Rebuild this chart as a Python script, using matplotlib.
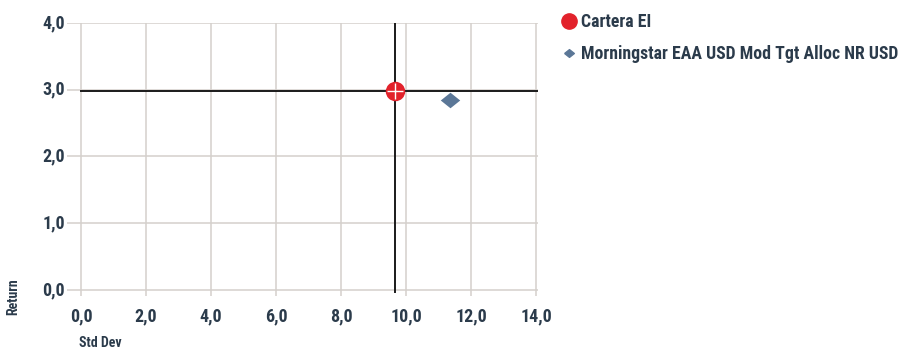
import matplotlib.pyplot as plt
from matplotlib import font_manager
from matplotlib.lines import Line2D

# risk / return values
names = ["Cartera EI", "Morningstar EAA USD Mod Tgt Alloc NR USD"]
std_dev = [9.66, 11.35]
returns = [2.98, 2.84]
x_ticks = [0, 2, 4, 6, 8, 10, 12, 14]
y_ticks = [0, 1, 2, 3, 4]

text_col = "#2b3b4b"
red = "#e2222b"
blue = "#5b7797"
installed = {f.name for f in font_manager.fontManager.ttflist}
narrow = [f for f in ["Roboto Condensed", "Archivo Narrow", "PT Sans Narrow",
                      "Asap Condensed", "Liberation Sans Narrow"] if f in installed]
plt.rcParams["font.family"] = narrow[:1] + ["DejaVu Sans"]

# a slightly flattened diamond
flat_diamond = [(-1, 0), (0, 0.8), (1, 0), (0, -0.8), (-1, 0)]

fig = plt.figure(figsize=(9.03, 3.52), dpi=100)
ax = fig.add_axes([67 / 903, 1 - 296 / 352, (538 - 67) / 903, (296 - 23) / 352])
ax.set_xlim(-0.43, 14.06)
ax.set_ylim(-0.09, 4.0)

for t in x_ticks:
    ax.plot([t, t], [-0.09, 4.0], color="#d4d0cc", lw=1.1, zorder=1)
for t in y_ticks:
    ax.plot([-0.43, 14.06], [t, t], color="#d4d0cc", lw=1.1, zorder=1)

# crosshair through the portfolio point
ax.plot([0, 14.06], [returns[0], returns[0]], color="#1a1a1a", lw=1.4, zorder=2)
ax.plot([std_dev[0], std_dev[0]], [-0.03, 4.0], color="#1a1a1a", lw=1.4, zorder=2)

ax.plot(std_dev[0], returns[0], "o", ms=14, color=red, mec="none", zorder=3)
ax.plot(std_dev[0], returns[0], "+", ms=12, mew=1.0, color="white", zorder=4)
ax.plot(std_dev[1], returns[1], marker=flat_diamond, ms=14, color=blue, mec="none", zorder=3)

for s in ax.spines.values():
    s.set_visible(False)
ax.set_xticks([])
ax.set_yticks([])

for t in x_ticks:
    ax.text(t, -0.39, f"{t:.1f}".replace(".", ","), ha="center", va="center",
            fontsize=13, fontweight="bold", color=text_col)
for t in y_ticks:
    ax.text(-0.5, t, f"{t:.1f}".replace(".", ","), ha="right", va="center",
            fontsize=13, fontweight="bold", color=text_col)

fig.text(13 / 903, 1 - 297 / 352, "Return", rotation=90, ha="center", va="center",
         fontsize=10, fontweight="bold", color=text_col)
fig.text(79 / 903, 1 - 343 / 352, "Std Dev", ha="left", va="center",
         fontsize=10, fontweight="bold", color=text_col)

handles = [
    Line2D([], [], marker="o", ls="none", ms=11, color=red),
    Line2D([], [], marker=flat_diamond, ls="none", ms=7, color=blue),
]
leg = fig.legend(handles, names, loc="upper left", bbox_to_anchor=(551 / 903, 1 - 4 / 352),
                 frameon=False, borderpad=0, handletextpad=0.2, labelspacing=0.78,
                 handlelength=1.0, prop={"size": 12.8, "weight": "bold"})
for txt in leg.get_texts():
    txt.set_color(text_col)

fig.savefig("out.png", dpi=100)
